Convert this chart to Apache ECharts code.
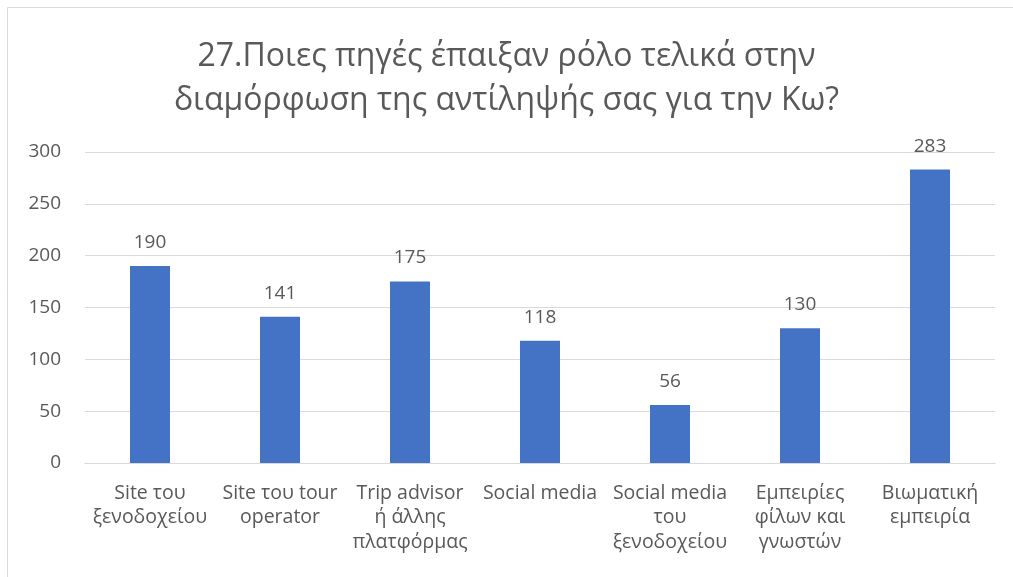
<!DOCTYPE html>
<html><head><meta charset="utf-8">
<script src="https://cdn.jsdelivr.net/npm/echarts@6/dist/echarts.min.js"></script>
<style>html,body{margin:0;padding:0;background:#fff}#c{width:1013px;height:577px}</style>
</head><body><div id="c"></div>
<script>
const titleText = "27.Ποιες πηγές έπαιξαν ρόλο τελικά στην\nδιαμόρφωση της αντίληψής σας για την Κω?";
const categories = ["Site του\nξενοδοχείου","Site του tour\noperator","Trip advisor\nή άλλης\nπλατφόρμας","Social media","Social media\nτου\nξενοδοχείου","Εμπειρίες\nφίλων και\nγνωστών","Βιωματική\nεμπειρία"];
const values = [190,141,175,118,56,130,283];
const yTicks = [0,50,100,150,200,250,300];
const font = "Open Sans";
const txt = "#595959";
const chart = echarts.init(document.getElementById('c'));
chart.setOption({
  animation:false,
  graphic:[{type:'rect',shape:{x:7.5,y:7.5,width:1020,height:600},style:{fill:null,stroke:'#d9d9d9',lineWidth:1},silent:true}],
  title:{text:titleText,left:'center',top:30,textStyle:{fontFamily:font,fontSize:32,fontWeight:'normal',color:txt,lineHeight:44}},
  grid:{left:85,right:18,top:152,bottom:114,containLabel:false},
  xAxis:{type:'category',data:categories,axisLine:{lineStyle:{color:'#d9d9d9',width:1}},axisTick:{show:false},
    axisLabel:{interval:0,fontFamily:font,fontSize:19.5,color:txt,lineHeight:24.5,margin:18}},
  yAxis:{type:'value',min:yTicks[0],max:yTicks[yTicks.length-1],interval:50,axisLine:{show:false},axisTick:{show:false},
    splitLine:{lineStyle:{color:'#d9d9d9',width:1}},axisLabel:{fontFamily:font,fontSize:19,color:txt,margin:24}},
  series:[{type:'bar',data:values,barWidth:40,itemStyle:{color:'#4472C4'},
    label:{show:true,position:'top',distance:14,fontFamily:font,fontSize:19,color:txt}}]
});
</script></body></html>
